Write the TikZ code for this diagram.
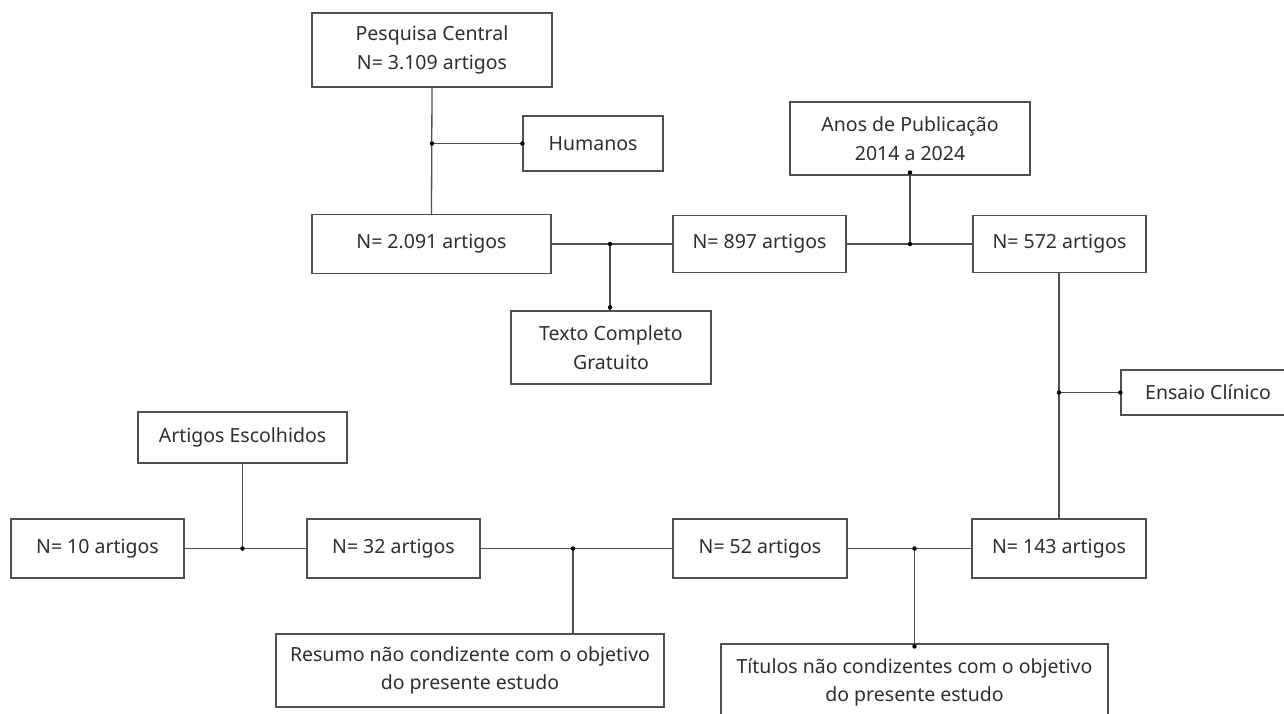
\documentclass[tikz,border=0pt]{standalone}
\usepackage{fontspec}
\setmainfont{Noto Sans}
\definecolor{linec}{HTML}{505050}
\definecolor{textc}{HTML}{2E2E2E}
\begin{document}
\begin{tikzpicture}[x=1pt,y=-1pt,
  box/.style={draw=linec,line width=1.2pt,rectangle,align=center,text=textc,
    font=\fontsize{19.5}{28.5}\selectfont,inner sep=0pt},
  conn/.style={draw=linec,line width=1.3pt},
  jdot/.style={circle,fill=black,inner sep=0pt,minimum size=4.5pt}]
\useasboundingbox[fill=white] (0,0) rectangle (1284,713);
% boxes
\node[box,minimum width=240pt,minimum height=74pt] (pc) at (432,50) {Pesquisa Central\\N= 3.109 artigos};
\node[box,minimum width=140pt,minimum height=55pt] (hum) at (593,143.5) {Humanos};
\node[box,minimum width=239pt,minimum height=59pt] (n2091) at (431.5,244) {N= 2.091 artigos};
\node[box,minimum width=173pt,minimum height=57pt] (n897) at (759.5,244) {N= 897 artigos};
\node[box,minimum width=240pt,minimum height=73pt] (anos) at (910,138.5) {Anos de Publicação\\2014 a 2024};
\node[box,minimum width=173pt,minimum height=57pt] (n572) at (1059.5,244) {N= 572 artigos};
\node[box,minimum width=200pt,minimum height=73pt] (texto) at (611,347.5) {Texto Completo\\Gratuito};
\node[box,minimum width=174pt,minimum height=45pt] (ensaio) at (1208,392.5) {Ensaio Clínico};
\node[box,minimum width=174pt,minimum height=59pt] (n143) at (1059,548.5) {N= 143 artigos};
\node[box,minimum width=174pt,minimum height=59pt] (n52) at (760,548.5) {N= 52 artigos};
\node[box,minimum width=387pt,minimum height=77pt] (titulos) at (914.5,682.5) {Títulos não condizentes com o objetivo\\do presente estudo};
\node[box,minimum width=173pt,minimum height=59pt] (n32) at (393.5,548.5) {N= 32 artigos};
\node[box,minimum width=173pt,minimum height=59pt] (n10) at (97.5,548.5) {N= 10 artigos};
\node[box,minimum width=209pt,minimum height=51pt] (artigos) at (242.5,437.5) {Artigos Escolhidos};
\node[box,minimum width=388pt,minimum height=73pt] (resumo) at (470,670.5) {Resumo não condizente com o objetivo\\do presente estudo};
% junctions
\coordinate (j1) at (432,143.5);
\coordinate (j2) at (610,244);
\coordinate (j3) at (910,244);
\coordinate (j4) at (1059,392.5);
\coordinate (j5) at (914.5,548.5);
\coordinate (j6) at (573,548.5);
\coordinate (j7) at (242.5,548.5);
% connectors
\draw[conn] (pc.south) -- (n2091.north);
\draw[conn] (j1) -- (hum.west);
\draw[conn] (n2091.east) -- (n897.west);
\draw[conn] (j2) -- (j2 |- texto.north);
\draw[conn] (n897.east) -- (n572.west);
\draw[conn] (j3) -- (anos.south);
\draw[conn] (n572.south -| j4) -- (n143.north -| j4);
\draw[conn] (j4) -- (ensaio.west);
\draw[conn] (n143.west) -- (n52.east);
\draw[conn] (j5) -- (titulos.north);
\draw[conn] (n52.west) -- (n32.east);
\draw[conn] (j6) -- (j6 |- resumo.north);
\draw[conn] (n32.west) -- (n10.east);
\draw[conn] (j7) -- (artigos.south);
% dots
\node[jdot] at (j1) {};
\node[jdot] at (hum.west) {};
\node[jdot] at (j2) {};
\node[jdot] at ([yshift=3pt]j2 |- texto.north) {};
\node[jdot] at (j3) {};
\node[jdot] at ([yshift=3pt]anos.south) {};
\node[jdot] at (j4) {};
\node[jdot] at (ensaio.west) {};
\node[jdot] at (j5) {};
\node[jdot] at ([yshift=-3pt]titulos.north) {};
\node[jdot] at (j6) {};
\node[jdot] at (j7) {};
\end{tikzpicture}
\end{document}
